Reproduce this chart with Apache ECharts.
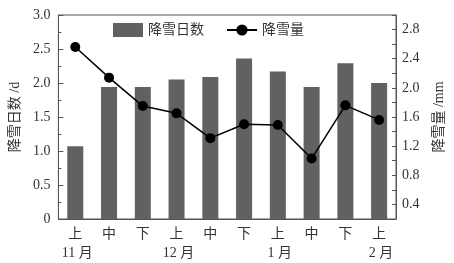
<!DOCTYPE html>
<html><head><meta charset="utf-8">
<script src="https://cdn.jsdelivr.net/npm/echarts@6/dist/echarts.min.js"></script>
<style>html,body{margin:0;padding:0;background:#fff}#c{width:454px;height:263px}</style>
</head><body><div id="c"></div>
<script>
var periods = ['上','中','下','上','中','下','上','中','下','上'];
var months = ['11 月','','','12 月','','','1 月','','','2 月'];
var snowDays = [1.07, 1.94, 1.94, 2.05, 2.09, 2.36, 2.17, 1.94, 2.29, 2.00];
var snowAmount = [2.56, 2.14, 1.75, 1.65, 1.31, 1.50, 1.49, 1.03, 1.76, 1.56];
var cats = periods.map(function(p,i){return 'c'+i;});
var FONT = '"Liberation Serif", "Noto Sans CJK SC", serif';
var TXT = '#333';
var AX = '#555';
var chart = echarts.init(document.getElementById('c'), null, {renderer:'canvas'});
chart.setOption({
  animation:false,
  textStyle:{fontFamily:FONT},
  grid:{left:58,right:57,top:15,bottom:44,show:true,borderColor:AX,borderWidth:1,backgroundColor:'transparent'},
  legend:{left:113,top:23,padding:0,itemWidth:30,itemHeight:14,itemGap:22,
    textStyle:{fontFamily:FONT,fontSize:14,color:TXT},
    data:[{name:'降雪日数',icon:'rect'},{name:'降雪量'}]},
  xAxis:{type:'category',data:cats,
    axisLine:{lineStyle:{color:AX,width:1}},
    axisTick:{inside:true,alignWithLabel:true,length:5,lineStyle:{color:AX}},
    axisLabel:{margin:6,interval:0,color:TXT,fontFamily:FONT,
      formatter:function(v,i){return months[i]?('{a|'+periods[i]+'}\n{b|'+months[i]+'}'):('{a|'+periods[i]+'}');},
      rich:{a:{fontSize:14,lineHeight:19,fontFamily:FONT,color:TXT},b:{fontSize:14,lineHeight:19,fontFamily:FONT,color:TXT,padding:[0,0,0,4]}}},
    splitLine:{show:false}},
  yAxis:[
    {type:'value',min:0,max:3,interval:0.5,position:'left',
      name:'降雪日数 /d',nameLocation:'middle',nameRotate:90,nameGap:36,
      nameTextStyle:{fontSize:14,color:TXT,fontFamily:FONT},
      axisLine:{show:true,lineStyle:{color:AX}},
      axisTick:{show:true,inside:true,length:5,lineStyle:{color:AX}},
      minorTick:{show:true,splitNumber:2,length:3,lineStyle:{color:AX}},
      axisLabel:{margin:8,color:TXT,fontSize:14,fontFamily:FONT,formatter:function(v){return v===0?'0':v.toFixed(1);}},
      splitLine:{show:false}},
    {type:'value',min:0.2,max:3.0,interval:0.2,position:'right',
      name:'降雪量 /mm',nameLocation:'middle',nameRotate:90,nameGap:36,
      nameTextStyle:{fontSize:14,color:TXT,fontFamily:FONT},
      axisLine:{show:true,lineStyle:{color:AX}},
      axisTick:{show:true,inside:true,length:4,lineStyle:{color:AX}},
      axisLabel:{margin:6,color:TXT,fontSize:14,fontFamily:FONT,formatter:function(v){
        var k=Math.round(v*10); if(k%4!==0||k===0||k>=30) return ''; return (k/10).toFixed(1);}},
      splitLine:{show:false}}
  ],
  series:[
    {name:'降雪日数',type:'bar',yAxisIndex:0,data:snowDays,barWidth:16,itemStyle:{color:'#616161'}},
    {name:'降雪量',type:'line',yAxisIndex:1,data:snowAmount,symbol:'circle',symbolSize:10,
      lineStyle:{color:'#000',width:1.5},itemStyle:{color:'#000'}}
  ]
});
</script></body></html>
